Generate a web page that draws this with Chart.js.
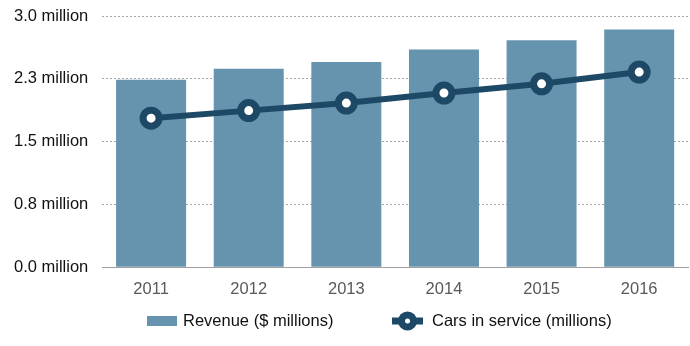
<!DOCTYPE html>
<html>
<head>
<meta charset="utf-8">
<script src="https://cdn.jsdelivr.net/npm/chart.js@4"></script>
<style>
  html, body { margin: 0; padding: 0; background: #ffffff; }
  #wrap { width: 690px; height: 346px; }
</style>
</head>
<body>
<div id="wrap"><canvas id="chart" width="690" height="346"></canvas></div>
<script>
// Data
const years = ['2011', '2012', '2013', '2014', '2015', '2016'];
const revenue = [2.24, 2.37, 2.45, 2.60, 2.71, 2.84];
const cars = [1.78, 1.87, 1.96, 2.08, 2.19, 2.33];
const yTickLabels = ['0.0 million', '0.8 million', '1.5 million', '2.3 million', '3.0 million'];

// Colors
const barBlue = '#6693ae';
const navy = '#1e4966';
const gridGray = '#a6a6a6';
const fontFamily = 'Liberation Sans, Arial, sans-serif';
const font = { family: fontFamily, size: 16.5 };

// bottom legend, drawn by hand so the spacing can match
const legendPlugin = {
  id: 'bottomLegend',
  afterDraw(chart) {
    const g = chart.ctx;
    const y = 321;
    g.save();
    g.font = '16.5px ' + fontFamily;
    g.textBaseline = 'middle';

    // revenue item
    g.fillStyle = barBlue;
    g.fillRect(147, y - 5, 30, 10);
    g.fillStyle = '#111111';
    g.fillText(chart.data.datasets[1].label, 183, y);

    // cars item
    g.strokeStyle = navy;
    g.lineWidth = 7;
    g.beginPath(); g.moveTo(392, y); g.lineTo(423, y); g.stroke();
    g.fillStyle = navy;
    g.beginPath(); g.arc(407.5, y, 9.5, 0, Math.PI * 2); g.fill();
    g.fillStyle = '#ffffff';
    g.beginPath(); g.arc(407.5, y, 2.5, 0, Math.PI * 2); g.fill();
    g.fillStyle = '#111111';
    g.fillText(chart.data.datasets[0].label, 432, y);
    g.restore();
  }
};

const ctx = document.getElementById('chart').getContext('2d');
new Chart(ctx, {
  data: {
    labels: years,
    datasets: [
      {
        type: 'line',
        label: 'Cars in service (millions)',
        data: cars,
        borderColor: navy,
        borderWidth: 6,
        pointRadius: 8,
        pointBorderWidth: 7,
        pointBackgroundColor: '#ffffff',
        pointBorderColor: navy,
        tension: 0,
        order: 1
      },
      {
        type: 'bar',
        label: 'Revenue ($ millions)',
        data: revenue,
        backgroundColor: barBlue,
        categoryPercentage: 0.717,
        barPercentage: 1.0,
        order: 2
      }
    ]
  },
  options: {
    responsive: false,
    animation: false,
    layout: { autoPadding: false, padding: { top: 16, right: 2, left: 0, bottom: 43 } },
    plugins: {
      tooltip: { enabled: false },
      legend: { display: false }
    },
    scales: {
      x: {
        grid: { display: false },
        border: { display: true, color: '#a0a0a0', width: 1 },
        ticks: { color: '#595959', font: font, padding: 4 },
        afterFit(scale) {
          scale.paddingLeft = 0;
          scale.paddingRight = 0;
        }
      },
      y: {
        min: 0,
        max: 3,
        ticks: {
          stepSize: 0.75,
          color: '#111111',
          font: font,
          padding: 14,
          callback: (v, i) => yTickLabels[i]
        },
        grid: { color: gridGray, drawTicks: false, lineWidth: 1 },
        border: { display: false, dash: [2, 2] },
        afterFit(scale) {
          scale.paddingTop = 0;
        }
      }
    }
  },
  plugins: [legendPlugin]
});
</script>
</body>
</html>
